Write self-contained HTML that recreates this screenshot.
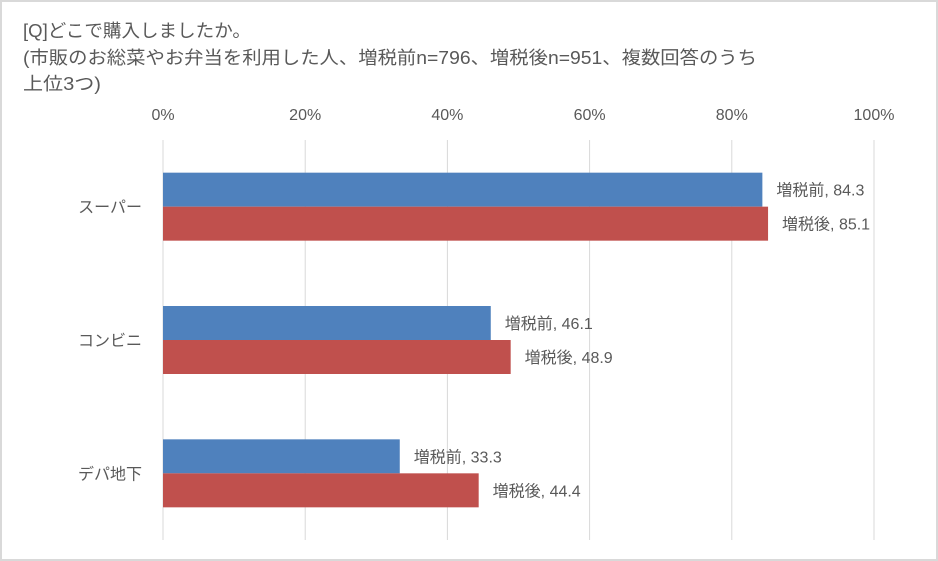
<!DOCTYPE html>
<html><head><meta charset="utf-8">
<style>
body{margin:0;background:#fff;}
#c{position:relative;width:938px;height:561px;overflow:hidden;}
text{font-family:"Liberation Sans","Noto Sans CJK JP",sans-serif;fill:#595959;}
</style></head>
<body>
<div id="c">
<svg id="svg" width="938" height="561" xmlns="http://www.w3.org/2000/svg">
<rect x="1" y="1" width="936" height="559" fill="#fff" stroke="#d9d9d9" stroke-width="2"/>
<text x="23" y="37" font-size="18" textLength="228" lengthAdjust="spacingAndGlyphs">[Q]どこで購入しましたか。</text>
<text x="23" y="64" font-size="18" textLength="734" lengthAdjust="spacingAndGlyphs">(市販のお総菜やお弁当を利用した人、増税前n=796、増税後n=951、複数回答のうち</text>
<text x="23" y="90" font-size="18" textLength="78" lengthAdjust="spacingAndGlyphs">上位3つ)</text>
<g id="grid"></g>
<g id="bars"></g>
</svg>
</div>
<script>
const categories=["スーパー","コンビニ","デパ地下"];
const seriesNames=["増税前","増税後"];
const beforeValues=[84.3,46.1,33.3];
const afterValues=[85.1,48.9,44.4];
const tickValues=[0,20,40,60,80,100];
const colors=["#4F81BD","#C0504D"];
const NS="http://www.w3.org/2000/svg";
const svg=document.getElementById('svg');
const grid=document.getElementById('grid');
const barsG=document.getElementById('bars');
const x0=163,x1=874,yTop=140,yBot=540;
const xs=v=>x0+(x1-x0)*v/100;
const band=(yBot-yTop)/categories.length;
const barH=34;
function mk(t,a){const e=document.createElementNS(NS,t);for(const k in a)e.setAttribute(k,a[k]);return e;}
tickValues.forEach(v=>{
  const l=mk('line',{x1:xs(v),x2:xs(v),y1:yTop,y2:yBot,stroke:'#d9d9d9','stroke-width':1});
  
  
  grid.appendChild(l);
  const t=mk('text',{x:xs(v),y:120,'font-size':16,'text-anchor':'middle'});
  t.textContent=v+'%';
  
  
  grid.appendChild(t);
});
const series=[beforeValues,afterValues];
categories.forEach((c,i)=>{
  const cy=yTop+band*(i+0.5);
  const t=mk('text',{x:142,y:cy+6,'font-size':16,'text-anchor':'end'});
  t.textContent=c;
  
  
  barsG.appendChild(t);
  series.forEach((s,j)=>{
    const y=cy-barH+j*barH;
    const r=mk('rect',{x:x0,y:y,width:xs(s[i])-x0,height:barH,fill:colors[j]});
    
    
    barsG.appendChild(r);
    const lb=mk('text',{x:xs(s[i])+14,y:y+barH/2+6,'font-size':16,fill:'#404040'});
    lb.textContent=seriesNames[j]+', '+s[i].toFixed(1);
    
    
    barsG.appendChild(lb);
  });
});
</script>
</body></html>
